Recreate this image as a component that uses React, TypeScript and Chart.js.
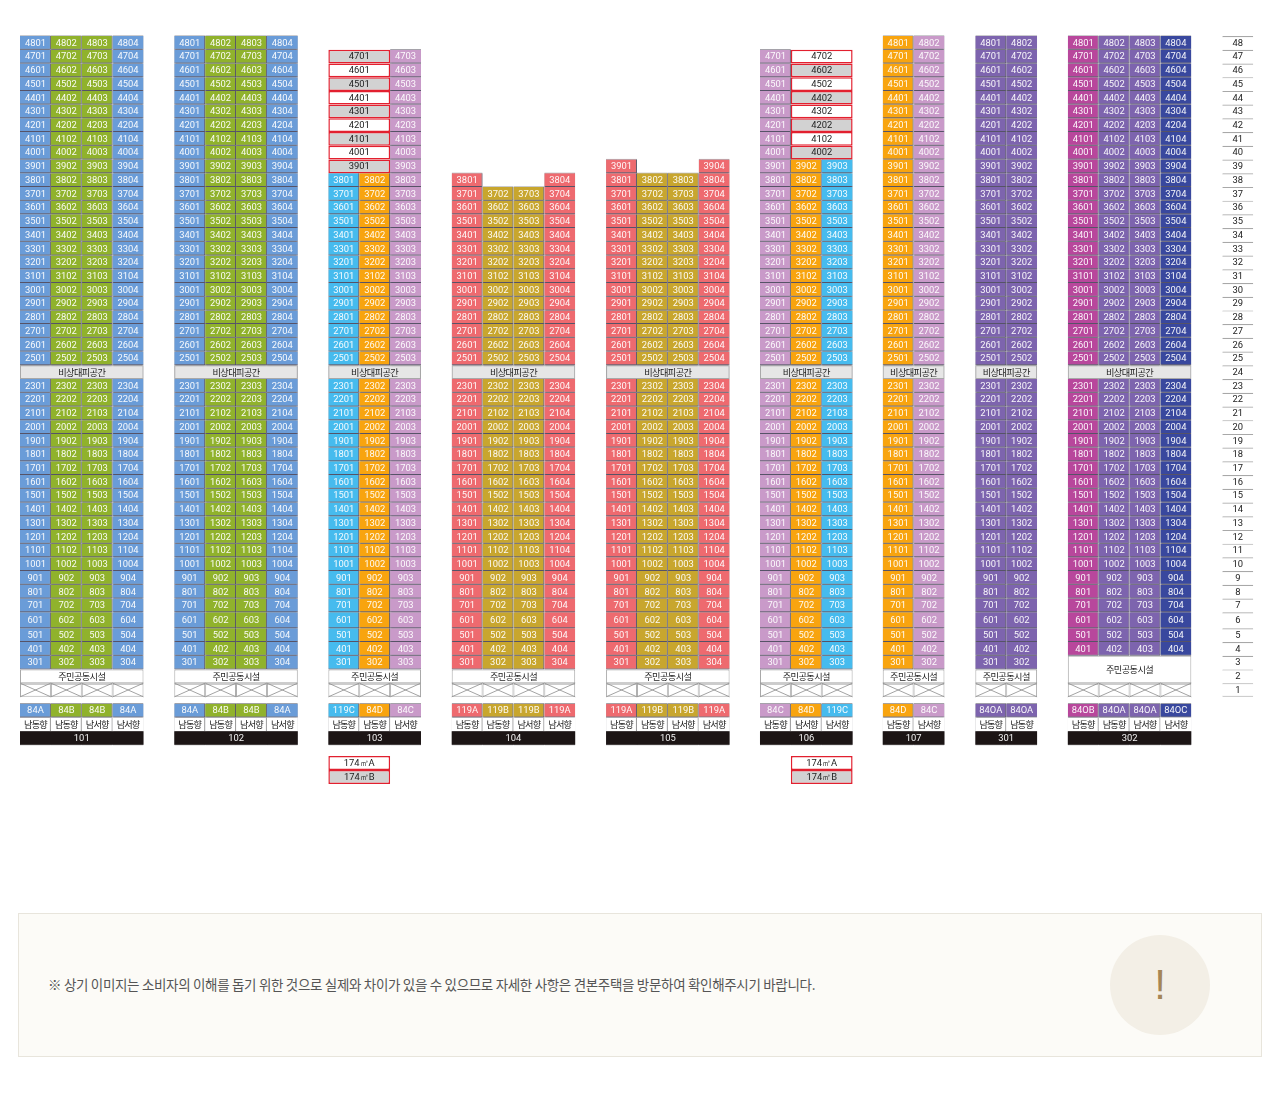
import { useEffect, useRef } from 'react';
import Chart from 'chart.js/auto';

// one entry per building
const towerNames = ['101', '102', '103', '104', '105', '106', '107', '301', '302'];
const towerTypes = [
  ['84A', '84B', '84B', '84A'],
  ['84A', '84B', '84B', '84A'],
  ['119C', '84D', '84C'],
  ['119A', '119B', '119B', '119A'],
  ['119A', '119B', '119B', '119A'],
  ['84C', '84D', '119C'],
  ['84D', '84C'],
  ['84OA', '84OA'],
  ['84OB', '84OA', '84OA', '84OC'],
];
const towerFacings = [
  ['남동향', '남동향', '남서향', '남서향'],
  ['남동향', '남동향', '남서향', '남서향'],
  ['남동향', '남동향', '남서향'],
  ['남동향', '남동향', '남서향', '남서향'],
  ['남동향', '남동향', '남서향', '남서향'],
  ['남동향', '남서향', '남서향'],
  ['남동향', '남서향'],
  ['남동향', '남동향'],
  ['남동향', '남동향', '남서향', '남서향'],
];
const towerTopFloors = [
  [48, 48, 48, 48],
  [48, 48, 48, 48],
  [38, 38, 47],
  [38, 37, 37, 38],
  [39, 38, 38, 39],
  [47, 39, 39],
  [48, 48],
  [48, 48],
  [48, 48, 48, 48],
];
const towerLowestFloors = [3, 3, 3, 3, 3, 3, 3, 3, 4];

// the 174㎡ stacks that take up two columns: [tower, first column, top floor, lowest floor]
const wideStacks = [
  [2, 0, 47, 39],
  [5, 1, 47, 40],
];
const wideGrayFloors = [
  [47, 45, 43, 41, 39],
  [46, 44, 42, 40],
];
const wideLegend = ['174㎡A', '174㎡B'];

const refugeFloor = 24;
const refugeLabel = '비상대피공간';
const communityLabel = '주민공동시설';
const noticeText =
  '※ 상기 이미지는 소비자의 이해를 돕기 위한 것으로 실제와 차이가 있을 수 있으므로 자세한 사항은 견본주택을 방문하여 확인해주시기 바랍니다.';

// layout, in column slots along x and floors along y
const COL_W = 30.875;
const towerStart = [0.648, 5.645, 10.635, 14.63, 19.63, 24.615, 28.59, 31.59, 34.585];
const floorColStart = 39.59;
const FLOOR_H = 13.72;
const TOP_PAD = 36;
const yMax = 48.5 + TOP_PAD / FLOOR_H;
const yMin = yMax - 1112 / FLOOR_H;
const LOW_SHIFT = 0.167; // row 6 is drawn a little taller than the rest

const typeColors: Record<string, string> = {
  '84A': '#6a9cd8',
  '84B': '#90b22c',
  '84C': '#c99ac9',
  '84D': '#f8a40f',
  '119A': '#ee6a6f',
  '119B': '#c8a62e',
  '119C': '#46bbee',
  '84OA': '#7d64ae',
  '84OB': '#b8479c',
  '84OC': '#39489e',
};

interface Cell {
  x: number;
  y: number[];
  label: string;
  kind: string;
  span: number;
  edges: { top: number; right: number; bottom: number; left: number };
}

function floorBand(f: number) {
  if (f >= 7) return [f - 0.5, f + 0.5];
  if (f === 6) return [5.5 - LOW_SHIFT, 6.5];
  return [f - 0.5 - LOW_SHIFT, f + 0.5 - LOW_SHIFT];
}

const allEdges = { top: 1, right: 1, bottom: 1, left: 1 };
const redEdges = { top: 1.5, right: 1.5, bottom: 1.5, left: 1.5 };
const noEdges = { top: 0, right: 0, bottom: 0, left: 0 };

function buildCells() {
  const cells: Cell[] = [];
  const add = (kind: string, x: number, span: number, y: number[], label = '', edges = allEdges) =>
    cells.push({ kind, x: x + span / 2, span, y, label, edges });
  const bottomRow = [-1.167, -0.167];
  const facingRow = [-2.167, -1.167];
  const nameRow = [-3.167, -2.167];

  towerNames.forEach((name, t) => {
    const start = towerStart[t];
    const cols = towerTypes[t].length;
    const low = towerLowestFloors[t];
    towerTypes[t].forEach((type, c) => {
      const inner = { top: 0, left: 0, right: c < cols - 1 ? 1 : 0, bottom: 1 };
      const top = towerTopFloors[t][c];
      add('frame', start + c, 1, [floorBand(low)[0], top + 0.55]);
      for (let f = top; f >= low; f--) {
        if (f === refugeFloor) continue;
        const unit = `${f}${String(c + 1).padStart(2, '0')}`;
        add(type, start + c, 1, floorBand(f), unit, inner);
      }
      add('pilotis', start + c, 1, floorBand(1), '', { top: 1.5, right: 1, bottom: 1, left: 1 });
      add('frame', start + c, 1, [nameRow[0] - 0.05, bottomRow[1] + 0.05]);
      add(type, start + c, 1, bottomRow, type, inner);
      add('facing', start + c, 1, facingRow, towerFacings[t][c], { ...inner, bottom: 0 });
    });
    add('refuge', start, cols, floorBand(refugeFloor), refugeLabel);
    add('community', start, cols, [floorBand(2)[0], floorBand(low - 1)[1]], communityLabel);
    add('name', start, cols, nameRow, name, noEdges);
  });

  wideStacks.forEach(([t, c, top, low], i) => {
    const start = towerStart[t] + c;
    for (let f = top; f >= low; f--) {
      const gray = wideGrayFloors[i].includes(f);
      const unit = `${f}${String(c + 1).padStart(2, '0')}`;
      add(gray ? 'wideGray' : 'wideWhite', start, 2, floorBand(f), unit, redEdges);
    }
    add('wideWhite', start, 2, [-5, -3.98], wideLegend[0], redEdges);
    add('wideGray', start, 2, [-6.02, -5], wideLegend[1], redEdges);
  });

  for (let f = 48; f >= 1; f--) {
    add('floor', floorColStart, 1, floorBand(f), String(f), { top: 1.2, right: 0, left: 0, bottom: f === 1 ? 1.2 : 0 });
  }
  return cells;
}

function styleOf(kind: string) {
  if (typeColors[kind]) return { fill: typeColors[kind], line: 'rgba(35,30,60,0.6)', order: 20 };
  switch (kind) {
    case 'frame':
      return { fill: '#a3a3a8', line: '#a3a3a8', order: 30 };
    case 'pilotis':
      return { fill: '#ffffff', line: '#a8a8a8', order: 20 };
    case 'facing':
      return { fill: '#ffffff', line: '#9a9a9a', order: 20 };
    case 'refuge':
      return { fill: '#e6e6e6', line: '#a8a8a8', order: 15 };
    case 'community':
      return { fill: '#ffffff', line: '#a8a8a8', order: 15 };
    case 'name':
      return { fill: '#1c1515', line: '#1c1515', order: 15 };
    case 'wideGray':
      return { fill: '#d2d2d2', line: '#e2202f', order: 10 };
    case 'wideWhite':
      return { fill: '#ffffff', line: '#e2202f', order: 10 };
    default:
      return { fill: '#ffffff', line: '#a8a8a8', order: 20 };
  }
}

function buildDatasets() {
  const groups = new Map<string, Cell[]>();
  buildCells().forEach((cell) => {
    const key = `${cell.kind}|${cell.span}`;
    if (!groups.has(key)) groups.set(key, []);
    groups.get(key)!.push(cell);
  });
  return [...groups.entries()].map(([key, data]) => {
    const { kind, span } = data[0];
    const style = styleOf(kind);
    return {
      label: key,
      data,
      grouped: false,
      barThickness: span * COL_W,
      backgroundColor: style.fill,
      borderColor: style.line,
      borderWidth: (ctx: any) => ctx.raw?.edges ?? allEdges,
      borderSkipped: false,
      inflateAmount: 0,
      order: style.order,
    };
  });
}

// cell texts and the crosses in the pilotis row
const cellTextPlugin = {
  id: 'cellText',
  afterDatasetsDraw(chart: any) {
    const { ctx } = chart;
    ctx.save();
    ctx.textAlign = 'center';
    ctx.textBaseline = 'middle';
    chart.getSortedVisibleDatasetMetas().forEach((meta: any) => {
      meta.data.forEach((el: any, i: number) => {
        const cell: Cell = meta.controller.getDataset().data[i];
        const cx = el.x;
        const cy = (el.y + el.base) / 2;
        if (cell.kind === 'pilotis') {
          const half = (cell.span * COL_W) / 2;
          ctx.strokeStyle = '#8c8c8c';
          ctx.lineWidth = 0.8;
          ctx.beginPath();
          ctx.moveTo(cx - half, el.y);
          ctx.lineTo(cx + half, el.base);
          ctx.moveTo(cx + half, el.y);
          ctx.lineTo(cx - half, el.base);
          ctx.stroke();
          return;
        }
        if (!cell.label) return;
        const korean = ['facing', 'refuge', 'community'].includes(cell.kind);
        const dark = korean || ['wideGray', 'wideWhite', 'floor'].includes(cell.kind);
        ctx.fillStyle = dark ? '#222222' : 'rgba(255,255,255,0.95)';
        ctx.letterSpacing = korean ? (cell.kind === 'facing' ? '-0.85px' : '-0.6px') : '0px';
        ctx.font = korean ? '9.2px "Noto Sans CJK KR"' : '9.4px Roboto';
        ctx.fillText(cell.label, cx, cy + 0.5);
      });
    });
    ctx.restore();
  },
};

export default function App() {
  const chartRef = useRef<HTMLCanvasElement>(null);

  useEffect(() => {
    if (!chartRef.current) return;

    const chart = new Chart(chartRef.current, {
      type: 'bar',
      data: { datasets: buildDatasets() as any },
      options: {
        responsive: false,
        animation: false,
        events: [],
        devicePixelRatio: 1,
        layout: { padding: 0 },
        scales: {
          x: { type: 'linear', display: false, offset: false, min: 0, max: 1280 / COL_W },
          y: { type: 'linear', display: false, min: yMin, max: yMax },
        },
        plugins: { legend: { display: false }, tooltip: { enabled: false } },
      },
      plugins: [cellTextPlugin],
    });

    return () => chart.destroy();
  }, []);

  return (
    <div style={{ position: 'absolute', left: 0, top: 0, width: 1280, height: 1112, overflow: 'hidden' }}>
      <canvas ref={chartRef} width={1280} height={1112} style={{ display: 'block' }} />
      <div
        style={{
          position: 'absolute',
          left: 18,
          top: 913,
          width: 1242,
          height: 142,
          background: '#fcfbf7',
          border: '1px solid #e8e5dc',
        }}
      >
        <div
          style={{
            position: 'absolute',
            left: 29,
            top: -1,
            lineHeight: '142px',
            whiteSpace: 'nowrap',
            fontFamily: '"Noto Sans CJK KR"',
            fontSize: 13.5,
            letterSpacing: '-0.32px',
            color: '#555',
          }}
        >
          {noticeText}
        </div>
        <div
          style={{
            position: 'absolute',
            left: 1091,
            top: 21,
            width: 100,
            height: 100,
            borderRadius: '50%',
            background: '#f3efe6',
            textAlign: 'center',
            lineHeight: '100px',
            fontFamily: '"Liberation Sans"',
            fontSize: 42,
            color: '#a58656',
          }}
        >
          !
        </div>
      </div>
    </div>
  );
}
